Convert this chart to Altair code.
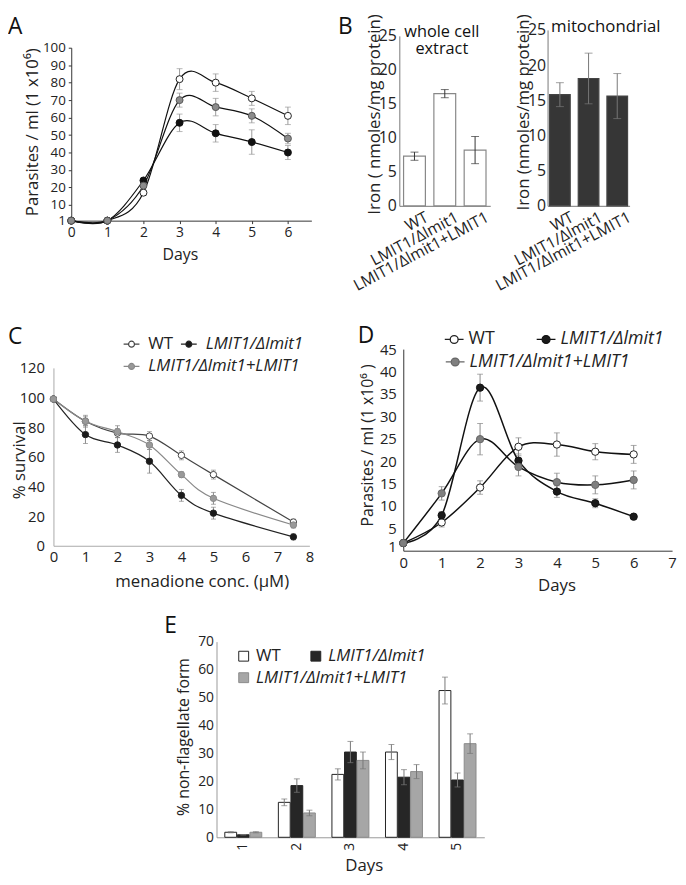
import altair as alt
import pandas as pd

FONT = "Open Sans"
W, H = 678, 869

GROUPS = ["WT", "LMIT1/Δlmit1", "LMIT1/Δlmit1+LMIT1"]

# ---------------- Panel A : growth curve ----------------
days_A = [0, 1, 2, 3, 4, 5, 6]
A_wt = [1, 1, 17, 82, 80, 71, 61]
A_wt_err = [0, 0, 1.5, 6, 5, 4, 5]
A_ko = [1, 1, 24, 57, 51, 46, 40]
A_ko_err = [0, 0, 1, 5, 5, 7, 4]
A_ad = [1, 1, 21, 70, 66, 61, 48]
A_ad_err = [0, 0, 1, 4, 5, 4, 3]
A_yticks = [1, 10, 20, 30, 40, 50, 60, 70, 80, 90, 100]
A_xticks = [0, 1, 2, 3, 4, 5, 6]

# ---------------- Panel B : iron content ----------------
B_whole = [7.3, 16.5, 8.2]
B_whole_err = [0.6, 0.6, 2.0]
B_mito = [15.8, 18.1, 15.6]
B_mito_err = [1.7, 3.6, 3.2]
B_yticks = [0, 5, 10, 15, 20, 25]

# ---------------- Panel C : menadione survival ----------------
conc_C = [0, 1, 2, 3, 4, 5, 7.5]
C_wt = [99, 84, 76, 74, 61, 48, 16]
C_wt_err = [0, 3, 3, 3, 3, 3, 2]
C_ko = [99, 75, 68, 57, 34, 22, 6]
C_ko_err = [0, 6, 5, 8, 4, 4, 2]
C_ad = [99, 84, 77, 68, 48, 32, 14]
C_ad_err = [0, 4, 4, 3, 2, 4, 2]
C_yticks = [0, 20, 40, 60, 80, 100, 120]
C_xticks = [0, 1, 2, 3, 4, 5, 6, 7, 8]

# ---------------- Panel D : growth curve ----------------
days_D = [0, 1, 2, 3, 4, 5, 6]
D_wt = [1.7, 6.3, 14.1, 23.2, 23.7, 22.1, 21.5]
D_wt_err = [0, 1, 1.5, 2, 2.6, 1.8, 2]
D_ko = [1.7, 7.9, 36.4, 20.1, 13.2, 10.6, 7.6]
D_ko_err = [0, 0.8, 3, 1.5, 1.3, 1, 0]
D_ad = [1.7, 12.8, 24.9, 18.7, 15.3, 14.7, 15.8]
D_ad_err = [0, 1.5, 3.5, 2, 2, 2, 2]
D_yticks = [1, 5, 10, 15, 20, 25, 30, 35, 40, 45]
D_xticks = [0, 1, 2, 3, 4, 5, 6, 7]

# ---------------- Panel E : non-flagellate form ----------------
days_E = ["1", "2", "3", "4", "5"]
E_wt = [1.8, 12.5, 22.5, 30.5, 52.5]
E_wt_err = [0.2, 1.2, 2.0, 2.7, 4.8]
E_ko = [0.9, 18.5, 30.5, 21.5, 20.5]
E_ko_err = [0.1, 2.4, 3.8, 2.7, 2.5]
E_ad = [1.8, 8.7, 27.5, 23.5, 33.5]
E_ad_err = [0.2, 1.0, 3.0, 2.5, 3.5]
E_yticks = [0, 10, 20, 30, 40, 50, 60, 70]


def long_df(xs, series):
    rows = []
    for g, vals, errs in series:
        for x, v, e in zip(xs, vals, errs):
            rows.append({"g": g, "x": x, "v": v, "err": e, "lo": v - e, "hi": v + e})
    return pd.DataFrame(rows)


def axis(orient, offset, values=None, title=None, tx=None, ty=None, lsize=14, tsize=17,
         ticks=False, tsz=3, lpad=4, dcolor="#555", **kw):
    opts = dict(orient=orient, offset=offset, titleBaseline="middle", titleFontSize=tsize,
                titleFontWeight="normal", titleFont=FONT, titleColor="#222",
                labelFont=FONT, labelFontSize=lsize, labelColor="#222",
                ticks=ticks, tickSize=tsz, tickColor=dcolor, labelPadding=lpad,
                domainColor=dcolor, grid=False, labelFlush=False, labelOverlap=False)
    if values is not None:
        opts["values"] = values
    opts["title"] = title if title is not None else ""
    if tx is not None:
        opts["titleX"] = tx
    if ty is not None:
        opts["titleY"] = ty
    opts.update(kw)
    return alt.Axis(**opts)


def circle_path(r):
    return (f"M-1,0L-{r},0M{r},0L1,0M-{r},0A{r},{r},0,1,1,{r},0"
            f"A{r},{r},0,1,1,-{r},0Z")


ITALIC = alt.ExprRef("datum.label == 'WT' ? 'normal' : 'italic'")


def legend_rows(df, fill_range, stroke_range, x, y, row_gap, stype, ssize, lsize,
                loff, cpad, sw=1.2, x2=None):
    """Two legend rows: (WT, LMIT1/Δlmit1) then (LMIT1/Δlmit1+LMIT1)."""
    out = []
    for idxs, lx, ly in [([0, 1], x, y), ([2], x if x2 is None else x2, y + row_gap)]:
        dom = [GROUPS[i] for i in idxs]
        leg = alt.Legend(orient="none", legendX=lx, legendY=ly, direction="horizontal",
                         title=None, symbolType=stype, symbolSize=ssize, symbolStrokeWidth=sw,
                         symbolOpacity=1, labelFont=FONT, labelFontSize=lsize,
                         labelColor="#222", labelFontStyle=ITALIC, labelOffset=loff,
                         columnPadding=cpad, labelLimit=300)
        out.append(alt.Chart(df).transform_filter("false").mark_point(opacity=1).encode(
            fill=alt.Fill("g:N", scale=alt.Scale(domain=dom, range=[fill_range[i] for i in idxs]),
                          legend=leg),
            stroke=alt.Stroke("g:N", scale=alt.Scale(domain=dom,
                                                     range=[stroke_range[i] for i in idxs]),
                              legend=leg)))
    return out


def line_panel(df, xscale, yscale, xaxis, yaxis, fill_range, stroke_range,
               line_color=None, pt=50, err_color="#888", cap=6, lw=1.2):
    X = lambda f: alt.X(f"{f}:Q", scale=xscale, axis=xaxis)
    Y = lambda f: alt.Y(f"{f}:Q", scale=yscale, axis=yaxis)
    fill = alt.Fill("g:N", scale=alt.Scale(domain=GROUPS, range=fill_range), legend=None)
    stroke = alt.Stroke("g:N", scale=alt.Scale(domain=GROUPS, range=stroke_range), legend=None)
    base = alt.Chart(df)
    errs = base.transform_filter("datum.err > 0").mark_rule(
        color=err_color, strokeWidth=1).encode(x=X("x"), y=Y("lo"), y2="hi")
    caps = base.transform_filter("datum.err > 0").transform_fold(
        ["lo", "hi"], as_=["k", "cap"]).mark_tick(
        color=err_color, orient="horizontal", size=cap, thickness=1).encode(
        x=X("x"), y=Y("cap"))
    if line_color:
        line = base.mark_line(interpolate="cardinal", color=line_color, strokeWidth=lw).encode(
            x=X("x"), y=Y("v"), detail="g:N")
    else:
        line = base.mark_line(interpolate="cardinal", strokeWidth=lw).encode(
            x=X("x"), y=Y("v"), stroke=stroke)
    pts = base.mark_point(shape="circle", size=pt, opacity=1, strokeWidth=1).encode(
        x=X("x"), y=Y("v"), fill=fill, stroke=stroke)
    return alt.layer(errs, caps, line, pts)


def bar_panel(vals, errs, xscale, yscale, xaxis, yaxis, fill, stroke, err_color, cap):
    df = pd.DataFrame({"g": GROUPS, "v": vals, "err": errs})
    df["lo"] = df["v"] - df["err"]
    df["hi"] = df["v"] + df["err"]
    X = alt.X("g:N", sort=GROUPS, scale=xscale, axis=xaxis)
    Y = lambda f: alt.Y(f"{f}:Q", scale=yscale, axis=yaxis)
    base = alt.Chart(df)
    bars = base.mark_bar(fill=fill, stroke=stroke, strokeWidth=1.2).encode(x=X, y=Y("v"))
    eb = base.mark_rule(color=err_color, strokeWidth=1).encode(x=X, y=Y("lo"), y2="hi")
    caps = base.transform_fold(["lo", "hi"], as_=["k", "cap"]).mark_tick(
        color=err_color, orient="horizontal", size=cap, thickness=1).encode(x=X, y=Y("cap"))
    return alt.layer(bars, eb, caps)


# ---- Panel A
dfA = long_df(days_A, [(GROUPS[0], A_wt, A_wt_err), (GROUPS[1], A_ko, A_ko_err),
                       (GROUPS[2], A_ad, A_ad_err)])
panelA = line_panel(
    dfA,
    alt.Scale(domain=[0, 6.65], range=[64, 307], nice=False, zero=False),
    alt.Scale(domain=[1, 100], range=[210, 35], nice=False, zero=False),
    axis("bottom", 210 - H, A_xticks, "Days", tx=174, ty=34, tsize=16,
         ticks=True, tsz=3, lpad=2, dcolor="#333"),
    axis("left", -64, A_yticks, "Parasites / ml  (1 x10⁶)", tx=-39, ty=120,
         ticks=True, tsz=3, lpad=3, lsize=13.5, dcolor="#333"),
    ["white", "#111", "#8c8c8c"], ["#222", "#111", "#555"],
    line_color="#111", pt=50, err_color="#999", cap=6)

# ---- Panel B
B_xaxis = dict(labelAngle=332, labelAlign="right", labelBaseline="top", labelOffset=9)
panelB1 = bar_panel(
    B_whole, B_whole_err,
    alt.Scale(domain=GROUPS, range=[396, 488], paddingInner=0.28, paddingOuter=0.14),
    alt.Scale(domain=[0, 25], range=[195, 23], nice=False),
    axis("bottom", 195 - H, None, None, lsize=16, lpad=3, dcolor="#777", **B_xaxis),
    axis("left", -396, B_yticks, "Iron ( nmoles/mg protein)", tx=-25, ty=102,
         lsize=16, lpad=3, dcolor="#777"),
    "white", "#888", "#333", 8)
panelB2 = bar_panel(
    B_mito, B_mito_err,
    alt.Scale(domain=GROUPS, range=[546, 629], paddingInner=0.28, paddingOuter=0.07),
    alt.Scale(domain=[0, 25], range=[195, 17], nice=False),
    axis("bottom", 195 - H, None, None, lsize=16, lpad=3, dcolor="#777", **B_xaxis),
    axis("left", -546, B_yticks, "Iron (nmoles/mg protein)", tx=-24, ty=100,
         lsize=16, lpad=2, dcolor="#777"),
    "#363636", "#444", "#777", 8)

# ---- Panel C
dfC = long_df(conc_C, [(GROUPS[0], C_wt, C_wt_err), (GROUPS[1], C_ko, C_ko_err),
                       (GROUPS[2], C_ad, C_ad_err)])
C_fill = ["white", "#1a1a1a", "#999"]
C_stroke = ["#444", "#222", "#888"]
panelC = line_panel(
    dfC,
    alt.Scale(domain=[0, 8], range=[46, 305], nice=False, zero=False),
    alt.Scale(domain=[0, 120], range=[539, 359], nice=False, zero=False),
    axis("bottom", 539 - H, C_xticks, "menadione conc. (μM)", tx=196, ty=36,
         lsize=15, lpad=4, dcolor="#aaa"),
    axis("left", -46, C_yticks, "% survival", tx=-34, ty=452,
         lsize=15, lpad=9, dcolor="#aaa"),
    C_fill, C_stroke, pt=42, err_color="#888", cap=5)
legC = legend_rows(dfC, C_fill, C_stroke, 116, 326, 22.5, circle_path(0.375), 256, 17, 8, 4)

# ---- Panel D
dfD = long_df(days_D, [(GROUPS[0], D_wt, D_wt_err), (GROUPS[1], D_ko, D_ko_err),
                       (GROUPS[2], D_ad, D_ad_err)])
D_fill = ["white", "#1a1a1a", "#7f7f7f"]
D_stroke = ["#222", "#111", "#666"]
panelD = line_panel(
    dfD,
    alt.Scale(domain=[0, 7], range=[400, 672], nice=False, zero=False),
    alt.Scale(domain=[0, 45], range=[544, 340], nice=False, zero=False),
    axis("bottom", 544 - H, D_xticks, "Days", tx=555, ty=35,
         lsize=15, lpad=5, dcolor="#333"),
    axis("left", -400, D_yticks, "Parasites / ml (1 x10⁶ )", tx=-36, ty=437, tsize=16,
         lsize=15, lpad=7, dcolor="#333"),
    D_fill, D_stroke, line_color="#111", pt=55, err_color="#888", cap=6, lw=1.5)
legD = legend_rows(dfD, D_fill, D_stroke, 441, 319.5, 23, circle_path(0.42), 361, 18, 4, 39,
                   sw=1.3, x2=442)

# ---- Panel E
dfE = long_df(days_E, [(GROUPS[0], E_wt, E_wt_err), (GROUPS[1], E_ko, E_ko_err),
                       (GROUPS[2], E_ad, E_ad_err)])
E_fill = ["white", "#262626", "#a6a6a6"]
E_stroke = ["#222", "#262626", "#8a8a8a"]
XE = alt.X("x:N", sort=days_E,
           scale=alt.Scale(domain=days_E, range=[211, 482], paddingInner=0.31, paddingOuter=0.155),
           axis=axis("bottom", 834 - H, None, "Days", tx=360, ty=29, tsize=17,
                     lsize=14, lpad=5, dcolor="#999"))
XOE = alt.XOffset("g:N", sort=GROUPS, scale=alt.Scale(domain=GROUPS, paddingInner=0.06))
YE = lambda f: alt.Y(f"{f}:Q", scale=alt.Scale(domain=[0, 70], range=[834, 636], nice=False),
                     axis=axis("left", -211, E_yticks, "% non-flagellate form", tx=-33, ty=732,
                               tsize=16, lsize=14, lpad=3, dcolor="#999"))
baseE = alt.Chart(dfE)
barsE = baseE.mark_bar(strokeWidth=1).encode(
    x=XE, xOffset=XOE, y=YE("v"),
    fill=alt.Fill("g:N", scale=alt.Scale(domain=GROUPS, range=E_fill), legend=None),
    stroke=alt.Stroke("g:N", scale=alt.Scale(domain=GROUPS, range=E_stroke), legend=None))
ebE = baseE.mark_rule(color="#777", strokeWidth=1).encode(x=XE, xOffset=XOE, y=YE("lo"), y2="hi")
capE = baseE.transform_fold(["lo", "hi"], as_=["k", "cap"]).mark_tick(
    color="#777", orient="horizontal", size=6, thickness=1).encode(x=XE, xOffset=XOE, y=YE("cap"))
panelE = alt.layer(barsE, ebE, capE)
legE = legend_rows(dfE, E_fill, E_stroke, 230, 642, 22, "square", 100, 17, 4, 26, sw=1)

# ---- Annotations (panel letters and sub-titles)
panel_letters = ["A", "B", "C", "D", "E"]
letter_pos = [(0, 21), (334, 21), (0, 335), (354, 334), (158, 627)]
ann = []
for lab, (px, py) in zip(panel_letters, letter_pos):
    ann.append(alt.Chart(pd.DataFrame({"t": [lab]})).mark_text(
        font=FONT, fontSize=23, align="left", baseline="alphabetic", color="#111").encode(
        text="t:N", x=alt.value(px), y=alt.value(py)))
ann.append(alt.Chart(pd.DataFrame({"t": ["B1"]})).mark_text(
    font=FONT, fontSize=16.5, align="center", baseline="alphabetic", color="#111",
    text=["whole cell", "extract"], lineHeight=17).encode(x=alt.value(439), y=alt.value(24)))
ann.append(alt.Chart(pd.DataFrame({"t": ["mitochondrial"]})).mark_text(
    font=FONT, fontSize=17, align="center", baseline="alphabetic", color="#111").encode(
    text="t:N", x=alt.value(605), y=alt.value(19)))

chart = alt.layer(panelA, panelB1, panelB2, panelC, panelD, panelE,
                  *legC, *legD, *legE, *ann).resolve_scale(
    x="independent", y="independent", fill="independent", stroke="independent",
    xOffset="independent").resolve_axis(x="independent", y="independent").properties(
    width=W, height=H, autosize=alt.AutoSizeParams(type="none"), padding=0,
    background="white").configure_view(stroke=None).configure_text(font=FONT)

chart.save("out.html", embed_options={"renderer": "svg", "actions": False})
